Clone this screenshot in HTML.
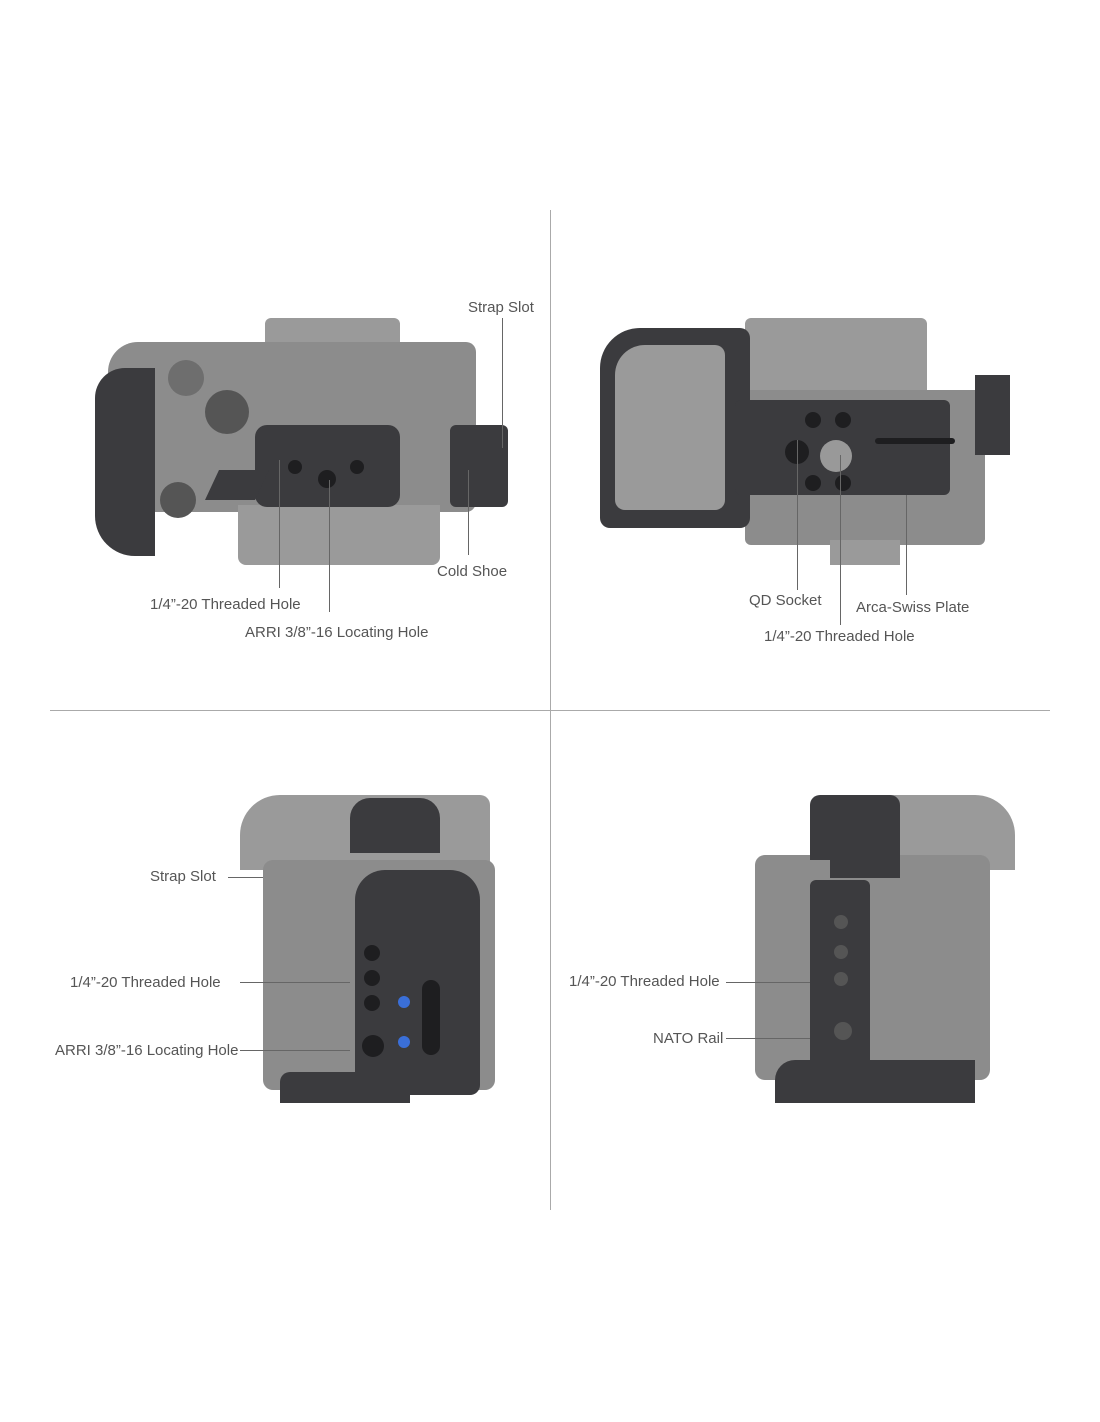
<!DOCTYPE html>
<html><head><meta charset="utf-8"><style>
html,body{margin:0;padding:0;background:#fff;}
body{width:1100px;height:1422px;position:relative;overflow:hidden;font-family:"Liberation Sans",sans-serif;}
.a{position:absolute;}
.l{position:absolute;font-size:15px;color:#555;white-space:nowrap;line-height:16px;}
.vl{position:absolute;width:1px;background:#666;}
.hl{position:absolute;height:1px;background:#666;}
.g{position:absolute;background:#8c8c8c;}
.lg{position:absolute;background:#9a9a9a;}
.d{position:absolute;background:#3b3b3e;}
.h{position:absolute;background:#1e1e20;border-radius:50%;}
</style></head><body>
<div class="a" style="left:550px;top:210px;width:1px;height:1000px;background:#aaa"></div>
<div class="a" style="left:50px;top:710px;width:1000px;height:1px;background:#aaa"></div>

<!-- TOP LEFT -->
<div class="lg" style="left:265px;top:318px;width:135px;height:90px;border-radius:6px 6px 0 0"></div>
<div class="g" style="left:108px;top:342px;width:368px;height:170px;border-radius:30px 10px 10px 40px"></div>
<div class="lg" style="left:238px;top:505px;width:202px;height:60px;border-radius:0 0 8px 8px"></div>
<div class="d" style="left:95px;top:368px;width:60px;height:188px;border-radius:30px 0 0 40px"></div>
<div class="d" style="left:255px;top:425px;width:145px;height:82px;border-radius:12px"></div>
<div class="d" style="left:212px;top:470px;width:50px;height:30px;transform:skewX(-25deg)"></div>
<div class="d" style="left:450px;top:425px;width:58px;height:82px;border-radius:6px"></div>
<div class="h" style="left:318px;top:470px;width:18px;height:18px"></div>
<div class="h" style="left:288px;top:460px;width:14px;height:14px"></div>
<div class="h" style="left:350px;top:460px;width:14px;height:14px"></div>
<div class="h" style="left:160px;top:482px;width:36px;height:36px;background:#555"></div>
<div class="h" style="left:168px;top:360px;width:36px;height:36px;background:#6e6e6e"></div>
<div class="h" style="left:205px;top:390px;width:44px;height:44px;background:#555"></div>
<div class="l" style="left:468px;top:300px">Strap Slot</div>
<div class="vl" style="left:502px;top:318px;height:130px"></div>
<div class="l" style="left:437px;top:564px">Cold Shoe</div>
<div class="vl" style="left:468px;top:470px;height:85px"></div>
<div class="l" style="left:150px;top:597px">1/4”-20 Threaded Hole</div>
<div class="vl" style="left:279px;top:460px;height:128px"></div>
<div class="l" style="left:245px;top:625px">ARRI 3/8”-16 Locating Hole</div>
<div class="vl" style="left:329px;top:480px;height:132px"></div>

<!-- TOP RIGHT -->
<div class="lg" style="left:745px;top:318px;width:182px;height:85px;border-radius:6px"></div>
<div class="g" style="left:745px;top:390px;width:240px;height:155px;border-radius:6px"></div>
<div class="lg" style="left:830px;top:540px;width:70px;height:25px"></div>
<div class="d" style="left:600px;top:328px;width:150px;height:200px;border-radius:40px 10px 10px 10px"></div>
<div class="lg" style="left:615px;top:345px;width:110px;height:165px;border-radius:30px 10px 10px 10px"></div>
<div class="d" style="left:735px;top:400px;width:215px;height:95px;border-radius:6px"></div>
<div class="d" style="left:975px;top:375px;width:35px;height:80px"></div>
<div class="h" style="left:820px;top:440px;width:32px;height:32px;background:#999"></div>
<div class="h" style="left:785px;top:440px;width:24px;height:24px"></div>
<div class="h" style="left:805px;top:412px;width:16px;height:16px"></div>
<div class="h" style="left:835px;top:412px;width:16px;height:16px"></div>
<div class="h" style="left:805px;top:475px;width:16px;height:16px"></div>
<div class="h" style="left:835px;top:475px;width:16px;height:16px"></div>
<div class="a" style="left:875px;top:438px;width:80px;height:6px;background:#1e1e20;border-radius:3px"></div>
<div class="l" style="left:749px;top:593px">QD Socket</div>
<div class="vl" style="left:797px;top:440px;height:150px"></div>
<div class="l" style="left:856px;top:600px">Arca-Swiss Plate</div>
<div class="vl" style="left:906px;top:495px;height:100px"></div>
<div class="l" style="left:764px;top:629px">1/4”-20 Threaded Hole</div>
<div class="vl" style="left:840px;top:455px;height:170px"></div>

<!-- BOTTOM LEFT -->
<div class="lg" style="left:240px;top:795px;width:250px;height:75px;border-radius:40px 10px 0 0"></div>
<div class="g" style="left:263px;top:860px;width:232px;height:230px;border-radius:10px"></div>
<div class="d" style="left:355px;top:870px;width:125px;height:225px;border-radius:30px 30px 10px 10px"></div>
<div class="d" style="left:280px;top:1072px;width:130px;height:31px;border-radius:10px 0 0 0"></div>
<div class="d" style="left:350px;top:798px;width:90px;height:55px;border-radius:20px 20px 0 0"></div>
<div class="h" style="left:364px;top:945px;width:16px;height:16px"></div>
<div class="h" style="left:364px;top:970px;width:16px;height:16px"></div>
<div class="h" style="left:364px;top:995px;width:16px;height:16px"></div>
<div class="h" style="left:362px;top:1035px;width:22px;height:22px"></div>
<div class="h" style="left:398px;top:996px;width:12px;height:12px;background:#3a6fd8"></div>
<div class="h" style="left:398px;top:1036px;width:12px;height:12px;background:#3a6fd8"></div>
<div class="a" style="left:422px;top:980px;width:18px;height:75px;background:#1e1e20;border-radius:9px"></div>
<div class="l" style="left:150px;top:869px">Strap Slot</div>
<div class="hl" style="left:228px;top:877px;width:35px"></div>
<div class="l" style="left:70px;top:975px">1/4”-20 Threaded Hole</div>
<div class="hl" style="left:240px;top:982px;width:110px"></div>
<div class="l" style="left:55px;top:1043px">ARRI 3/8”-16 Locating Hole</div>
<div class="hl" style="left:240px;top:1050px;width:110px"></div>

<!-- BOTTOM RIGHT -->
<div class="lg" style="left:860px;top:795px;width:155px;height:75px;border-radius:10px 40px 0 0"></div>
<div class="g" style="left:755px;top:855px;width:235px;height:225px;border-radius:10px"></div>
<div class="d" style="left:810px;top:795px;width:90px;height:65px;border-radius:10px 10px 0 0"></div>
<div class="d" style="left:830px;top:850px;width:70px;height:28px"></div>
<div class="d" style="left:810px;top:880px;width:60px;height:200px;border-radius:6px"></div>
<div class="d" style="left:775px;top:1060px;width:200px;height:43px;border-radius:20px 0 0 0"></div>
<div class="h" style="left:834px;top:915px;width:14px;height:14px;background:#555"></div>
<div class="h" style="left:834px;top:945px;width:14px;height:14px;background:#555"></div>
<div class="h" style="left:834px;top:972px;width:14px;height:14px;background:#555"></div>
<div class="h" style="left:834px;top:1022px;width:18px;height:18px;background:#555"></div>
<div class="l" style="left:569px;top:974px">1/4”-20 Threaded Hole</div>
<div class="hl" style="left:726px;top:982px;width:84px"></div>
<div class="l" style="left:653px;top:1031px">NATO Rail</div>
<div class="hl" style="left:726px;top:1038px;width:84px"></div>
</body></html>
